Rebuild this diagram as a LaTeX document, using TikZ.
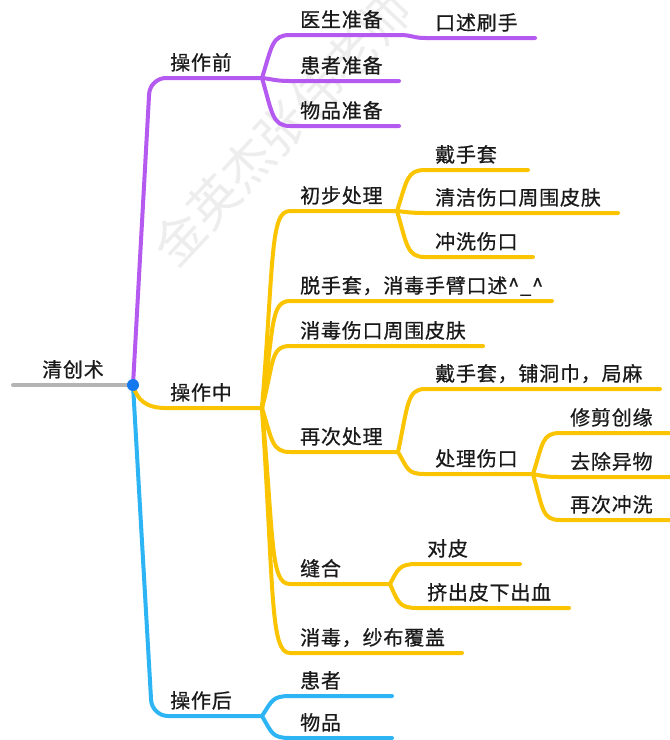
\documentclass[tikz,border=0pt]{standalone}
\usepackage{fontspec}
\newfontfamily\cjk[FakeBold=0.7,LetterSpace=4]{Noto Sans CJK SC}
\newfontfamily\cjkwm{Noto Sans CJK SC}
\definecolor{purp}{HTML}{B45AF0}
\definecolor{yel}{HTML}{FAC400}
\definecolor{blu}{HTML}{2DB4F5}
\definecolor{rootgray}{HTML}{B4B4B4}
\definecolor{dotblue}{HTML}{1478F0}
\definecolor{txt}{HTML}{1A1A1A}
\definecolor{wm}{HTML}{EDEDED}
\tikzset{
  lbl/.style={font=\cjk\fontsize{20}{20}\selectfont, text=txt, inner sep=0pt, anchor=base west},
  br/.style={line width=4pt, line cap=round, line join=round},
  pbr/.style={br, draw=purp},
  ybr/.style={br, draw=yel},
  bbr/.style={br, draw=blu},
}
% name, line start x, line y, line end x, text
\newcommand\mmitem[5]{%
  \coordinate (#1-a) at (#2,#3);
  \coordinate (#1-b) at (#4,#3);
  \node[lbl] (#1) at (#2+10,#3-8) {#5};}
\begin{document}
\begin{tikzpicture}[x=1pt,y=-1pt]
\useasboundingbox (0,0) rectangle (670,740);
\fill[white] (0,0) rectangle (670,740);
% watermark
\node[font=\cjkwm\fontsize{50}{50}\selectfont, text=wm, rotate=47, inner sep=0pt] (wmark) at (282,128) {金英杰张伟老师};

% root
\coordinate (root-a) at (13,385);
\coordinate (dot) at (133,385);
\node[lbl, anchor=base] (root) at (73,377) {清创术};
\draw[br, draw=rootgray] (root-a) -- (dot);

% main branches
\coordinate (pre-b) at (262,78);
\coordinate (mid-b) at (262,408);
\coordinate (post-b) at (262,716);
\node[lbl] (pre) at (170,70) {操作前};
\node[lbl] (mid) at (170,400) {操作中};
\node[lbl] (post) at (170,708) {操作后};
\draw[pbr, rounded corners=16pt] (dot) -- (150,78) -- (pre-b);
\draw[bbr, rounded corners=16pt] (dot) -- (152,716) -- (post-b);
\draw[ybr] (dot) .. controls (137,400) and (146,408) .. (166,408) -- (mid-b);

% purple children
\mmitem{ys}{290}{35}{400}{医生准备}
\mmitem{kssh}{425}{38}{535}{口述刷手}
\mmitem{hz}{290}{81}{399}{患者准备}
\mmitem{wp}{290}{126}{399}{物品准备}
\draw[pbr] (pre-b) .. controls +(10,-32) and +(-18,0) .. (ys-a) -- (ys-b);
\draw[pbr] (pre-b) .. controls +(10,1) and +(-15,0) .. (hz-a) -- (hz-b);
\draw[pbr] (pre-b) .. controls +(10,34) and +(-18,0) .. (wp-a) -- (wp-b);
\draw[pbr] (ys-b) .. controls +(12,0) and +(-12,0) .. (kssh-a) -- (kssh-b);

% yellow children
\mmitem{cb}{290}{211}{397}{初步处理}
\mmitem{dsta}{425}{170}{528}{戴手套}
\mmitem{qj}{425}{213}{618}{清洁伤口周围皮肤}
\mmitem{cx}{425}{257}{533}{冲洗伤口}
\mmitem{tst}{290}{301}{552}{脱手套，消毒手臂口述\textasciicircum\textunderscore\textasciicircum}
\mmitem{xd}{290}{346}{483}{消毒伤口周围皮肤}
\mmitem{zc}{290}{452}{398}{再次处理}
\mmitem{dstb}{425}{389}{660}{戴手套，铺洞巾，局麻}
\mmitem{cl}{425}{474}{533}{处理伤口}
\mmitem{xj}{560}{433}{672}{修剪创缘}
\mmitem{qc}{560}{477}{672}{去除异物}
\mmitem{zccx}{560}{520}{672}{再次冲洗}
\mmitem{fh}{290}{584}{390}{缝合}
\mmitem{dp}{417}{564}{520}{对皮}
\mmitem{jc}{417}{608}{569}{挤出皮下出血}
\mmitem{xsb}{290}{653}{462}{消毒，纱布覆盖}

\draw[ybr] (mid-b) .. controls +(12,-150) and +(-20,0) .. (cb-a) -- (cb-b);
\draw[ybr] (mid-b) .. controls +(12,-80) and +(-20,0) .. (tst-a) -- (tst-b);
\draw[ybr] (mid-b) .. controls +(12,-45) and +(-20,0) .. (xd-a) -- (xd-b);
\draw[ybr] (mid-b) .. controls +(10,32) and +(-18,0) .. (zc-a) -- (zc-b);
\draw[ybr] (mid-b) .. controls +(12,132) and +(-20,0) .. (fh-a) -- (fh-b);
\draw[ybr] (mid-b) .. controls +(12,185) and +(-20,0) .. (xsb-a) -- (xsb-b);

\draw[ybr] (cb-b) .. controls +(10,-31) and +(-18,0) .. (dsta-a) -- (dsta-b);
\draw[ybr] (cb-b) .. controls +(10,1) and +(-15,0) .. (qj-a) -- (qj-b);
\draw[ybr] (cb-b) .. controls +(10,34) and +(-18,0) .. (cx-a) -- (cx-b);

\draw[ybr] (zc-b) .. controls +(10,-47) and +(-18,0) .. (dstb-a) -- (dstb-b);
\draw[ybr] (zc-b) .. controls +(10,17) and +(-18,0) .. (cl-a) -- (cl-b);

\draw[ybr] (cl-b) .. controls +(10,-31) and +(-18,0) .. (xj-a) -- (xj-b);
\draw[ybr] (cl-b) .. controls +(10,2) and +(-15,0) .. (qc-a) -- (qc-b);
\draw[ybr] (cl-b) .. controls +(10,35) and +(-18,0) .. (zccx-a) -- (zccx-b);

\draw[ybr] (fh-b) .. controls +(8,-15) and +(-18,0) .. (dp-a) -- (dp-b);
\draw[ybr] (fh-b) .. controls +(8,18) and +(-18,0) .. (jc-a) -- (jc-b);

% blue children
\mmitem{hzb}{290}{696}{392}{患者}
\mmitem{wpb}{290}{738}{392}{物品}
\draw[bbr] (post-b) .. controls +(10,-15) and +(-18,0) .. (hzb-a) -- (hzb-b);
\draw[bbr] (post-b) .. controls +(10,17) and +(-18,0) .. (wpb-a) -- (wpb-b);

% central dot
\fill[dotblue] (dot) circle (6);
\end{tikzpicture}
\end{document}
